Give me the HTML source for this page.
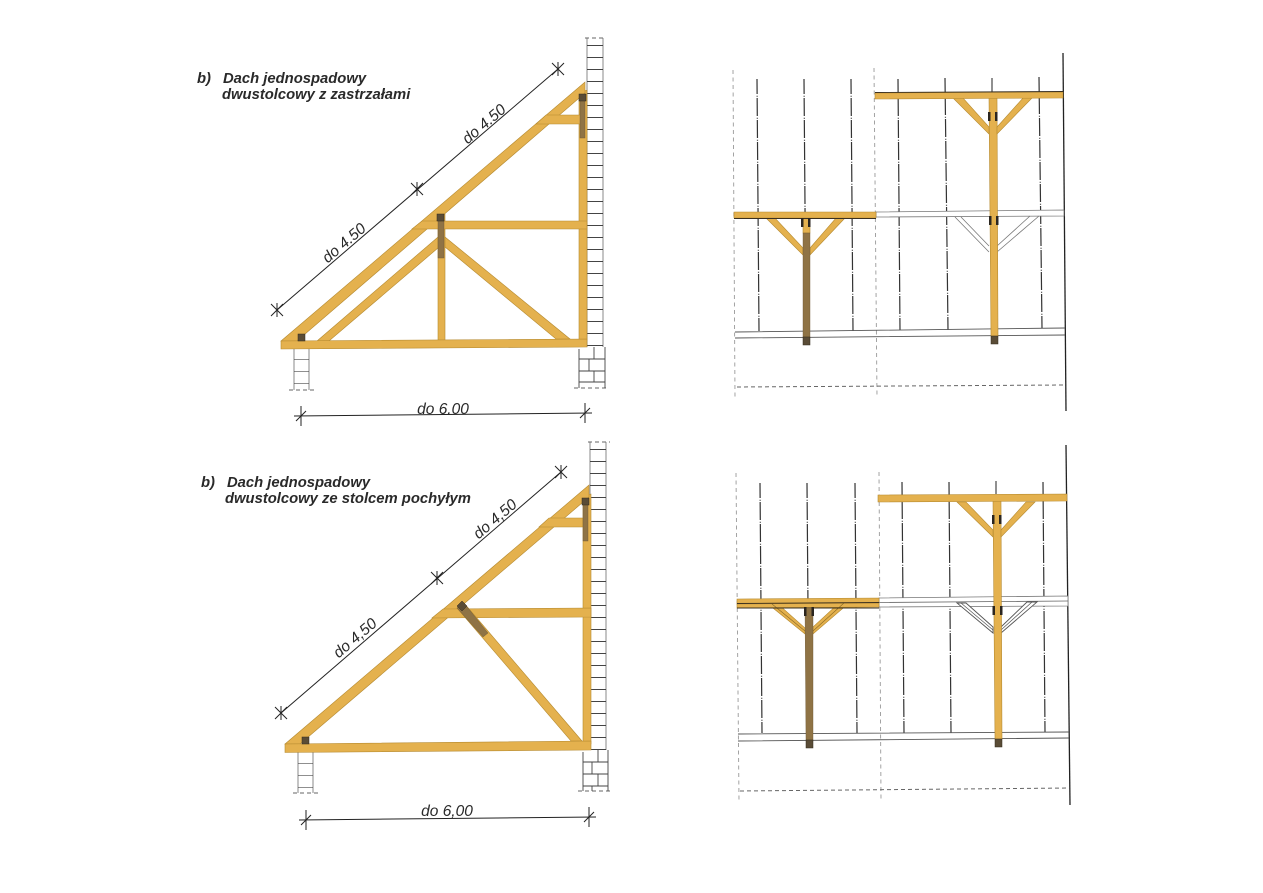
<!DOCTYPE html>
<html><head><meta charset="utf-8"><style>
html,body{margin:0;padding:0;background:#fff;width:1263px;height:893px;overflow:hidden}
svg{display:block}
.w polygon,.w path{fill:#e4b14e;stroke:#b58a30;stroke-width:.6}
.b{fill:#8f7345;stroke:#6b5632;stroke-width:.4}
.h{fill:#5a4c36;stroke:#332a1c;stroke-width:.5}
.k{fill:#2b2620}
.t{font-family:"Liberation Sans",sans-serif;font-weight:bold;font-style:italic;font-size:14.8px;fill:#2a2a2a}
.d{font-family:"Liberation Sans",sans-serif;font-style:italic;font-size:15.5px;fill:#2a2a2a;text-anchor:middle}
.l line,.l path{stroke:#222;stroke-width:1;fill:none}
.wl{stroke:#888;stroke-width:1;fill:none}
.wb{stroke:#444;fill:none}
.dd{stroke:#666;stroke-width:1;fill:none;stroke-dasharray:4 3}
.dc{stroke:#333;stroke-width:1.2;fill:none;stroke-dasharray:18 1.800 1 1.200;stroke-dashoffset:3}
.g{stroke:#999;stroke-width:.9;fill:none;stroke-dasharray:4 3.500}
.o{stroke:#555;stroke-width:.9;fill:#fff}
.p{stroke:#777;stroke-width:.8;fill:#fff}
.e{stroke:#3a3020;stroke-width:.9;fill:none}
</style></head><body>
<svg width="1263" height="893" viewBox="0 0 1263 893" xmlns="http://www.w3.org/2000/svg">
<g style="filter:blur(.3px)">

<!-- TOP LEFT -->
<text class="t" x="197" y="83">b)</text><text class="t" x="223" y="83">Dach jednospadowy</text>
<text class="t" x="222" y="99">dwustolcowy z zastrzałami</text>
<path class="wl" d="M587 38V347M603 38V347M294 349V390M309 349V390"/>
<line class="wb" x1="595" y1="45" x2="595" y2="347" stroke-width="16" stroke-dasharray="1 11"/>
<path class="dd" d="M585 38H606M289 390H315M574 388H608"/>
<line class="wb" x1="301.500" y1="359" x2="301.500" y2="390" stroke-width="15" stroke-dasharray="1 11" opacity=".6"/>
<path d="M579 349V388M605 347V388M579 359H605M579 371H605M579 382H605M594 347V359M589 359V371M594 371V382" stroke="#444" stroke-width=".9" fill="none"/>
<g class="w">
<polygon points="579,93 587,90 587,341 579,341"/>
<polygon points="438,214 445,214 445,341 438,341"/>
<polygon points="317,341 438,237 438,248 329,341"/>
<polygon points="445,237 570,339 556,339 445,247"/>
<polygon points="281,341 585,82 585,93 297,341"/>
<polygon points="546,115 581,115 581,124 536,124"/>
<polygon points="422,221 587,221 587,229 412,229"/>
<polygon points="281,341 587,339 587,347 281,349"/>
</g>
<rect class="b" x="580" y="100" width="5" height="38"/><rect class="h" x="579" y="94" width="7" height="7"/>
<rect class="b" x="438" y="221" width="6" height="37"/><rect class="h" x="437" y="214" width="7" height="7"/>
<rect class="h" x="298" y="334" width="7" height="7"/>
<g class="l">
<line x1="277" y1="310" x2="558" y2="69"/>
<path d="M277 303V317M271 304L283 316M271 316L283 304M417 182V196M411 183L423 195M411 195L423 183M558 62V76M552 63L564 75M552 75L564 63"/>
<line x1="294" y1="416" x2="592" y2="413"/>
<path d="M301 406V426M296 421L306 411M585 403V423M580 418L590 408"/>
</g>
<text class="d" transform="translate(344,243) rotate(-40.600)" y="5">do 4.50</text>
<text class="d" transform="translate(484,124) rotate(-40.600)" y="5">do 4.50</text>
<text class="d" x="443" y="414">do 6.00</text>

<!-- BOTTOM LEFT -->
<text class="t" x="201" y="487">b)</text><text class="t" x="227" y="487">Dach jednospadowy</text>
<text class="t" x="225" y="503">dwustolcowy ze stolcem pochyłym</text>
<path class="wl" d="M590 442V750M606 442V750M298 752V793M313 752V793"/>
<line class="wb" x1="598" y1="449" x2="598" y2="750" stroke-width="16" stroke-dasharray="1 11"/>
<path class="dd" d="M588 442H610M293 793H318M578 791H612"/>
<line class="wb" x1="305.500" y1="763" x2="305.500" y2="793" stroke-width="15" stroke-dasharray="1 11" opacity=".6"/>
<path d="M583 752V791M608 750V791M583 762H608M583 774H608M583 786H608M598 750V762M592 762V774M598 774V786M592 786V791" stroke="#444" stroke-width=".9" fill="none"/>
<g class="w">
<polygon points="583,497 591,494 591,744 583,744"/>
<polygon points="285,744 589,485 589,497 300,744"/>
<polygon points="549,518 583,518 583,527 539,527"/>
<polygon points="443,609 591,608 591,617 432,618"/>
<polygon points="457,608 464,603 582,741 571,741"/>
<polygon points="285,744 591,741 591,750 285,752.500"/>
</g>
<rect class="b" x="583" y="504" width="5" height="37"/><rect class="h" x="582" y="498" width="7" height="7"/>
<polygon class="b" points="457,608 464,603 488,633 483,637"/>
<polygon class="h" points="457,606 462,601 467,606 462,611"/>
<rect class="h" x="302" y="737" width="7" height="7"/>
<g class="l">
<line x1="281" y1="713" x2="561" y2="472"/>
<path d="M281 706V720M275 707L287 719M275 719L287 707M437 571V585M431 572L443 584M431 584L443 572M561 465V479M555 466L567 478M555 478L567 466"/>
<line x1="299" y1="820" x2="596" y2="817"/>
<path d="M306 810V830M301 825L311 815M589 807V827M584 822L594 812"/>
</g>
<text class="d" transform="translate(355,638) rotate(-40.600)" y="5">do 4,50</text>
<text class="d" transform="translate(495,519) rotate(-40.600)" y="5">do 4,50</text>
<text class="d" x="447" y="816">do 6,00</text>

<!-- TOP RIGHT -->
<path class="g" d="M733 70L735 398M874 68L877 397"/>
<path class="dc" d="M757 79L759 331M804 79L806 332M851 79L853 331M898 79L900 330M945 78L948 330M1039 77L1042 328"/>
<path d="M992 78V92" stroke="#222" fill="none"/>
<path d="M1063 53L1066 411" stroke="#222" stroke-width="1.300" fill="none"/>
<path class="dd" d="M737 387L1065 385"/>
<path d="M735 332L1065 328M735 338L1065 335" stroke="#555" stroke-width=".9" fill="none"/>
<polygon class="p" points="876,212 1064,210 1064,216 876,217"/>
<path class="p" d="M955 217L989 252M961 217L989 246M1039 216L997 252M1030 216L997 246" style="fill:none"/>
<g class="w">
<polygon points="989,98 997,98 998,336 991,336"/>
<polygon points="953,98 963,98 989,127 989,134"/>
<polygon points="1032,98 1023,98 997,127 997,134"/>
<polygon points="875,93 1063,92 1063,98 875,99"/>
<polygon points="766,218 775,218 803,248 803,255"/>
<polygon points="845,218 836,218 810,248 810,255"/>
<polygon points="803,218 810,218 810,233 803,233"/>
<polygon points="734,212 876,212 876,218 734,218"/>
</g>
<path class="e" d="M875 92.500L1063 91.500M734 218.500H876"/>
<rect class="b" x="803" y="233" width="7" height="104"/>
<rect class="h" x="803" y="337" width="7" height="8"/><rect class="h" x="991" y="336" width="7" height="8"/>
<path class="k" d="M988 112h2.500v9h-2.500zM995 112h2.500v9h-2.500zM989 216h2.500v9h-2.500zM996 216h2.500v9h-2.500zM801 218h2.500v9h-2.500zM808 218h2.500v9h-2.500z"/>

<!-- BOTTOM RIGHT -->
<path class="g" d="M736 473L739 801M879 472L881 800"/>
<path class="dc" d="M760 483L762 733M807 483L809 733M855 483L857 733M902 482L904 733M949 482L951 733M1043 482L1045 732"/>
<path d="M996 481V494" stroke="#222" fill="none"/>
<path d="M1066 445L1070 805" stroke="#222" stroke-width="1.300" fill="none"/>
<path class="dd" d="M740 791L1069 788"/>
<path d="M738 734L1069 732M738 741L1069 738" stroke="#555" stroke-width=".9" fill="none"/>
<polygon class="p" points="879,598 1068,596 1068,606 879,607"/>
<path d="M879 602.500L1068 601" stroke="#666" stroke-width=".8" fill="none"/>
<polygon class="o" points="957,603 966,603 993,627 993,633"/>
<polygon class="o" points="1037,602 1027,602 1001,627 1001,633"/>
<path d="M961 603L993 630M1032 602L1001 630" stroke="#555" stroke-width=".7" fill="none"/>
<g class="w">
<polygon points="993,501 1001,501 1002,739 995,739"/>
<polygon points="957,502 966,502 993,530 993,537"/>
<polygon points="1035,502 1026,502 1001,530 1001,537"/>
<polygon points="878,495 1067,494 1067,501 878,502"/>
<polygon points="768,604 778,604 805,628 805,634"/>
<polygon points="849,603 839,603 813,627 813,634"/>
<polygon points="737,599 879,598 879,603 737,604"/>
<polygon points="737,604 879,603 879,607 737,608"/>
</g>
<path d="M772 604L805 631M844 603L813 631" stroke="#8a6a22" stroke-width=".6" fill="none"/>
<path class="e" d="M737 608H879M737 603.500L879 602.500"/>
<polygon class="b" points="805,608 813,608 813,740 806,740"/>
<rect class="h" x="806" y="740" width="7" height="8"/><rect class="h" x="995" y="739" width="7" height="8"/>
<path class="k" d="M992 515h2.500v9h-2.500zM999 515h2.500v9h-2.500zM992.500 606h2.500v9h-2.500zM1000 606h2.500v9h-2.500zM804 607h2.500v9h-2.500zM811.500 607h2.500v9h-2.500z"/>
</g>
</svg>
</body></html>
